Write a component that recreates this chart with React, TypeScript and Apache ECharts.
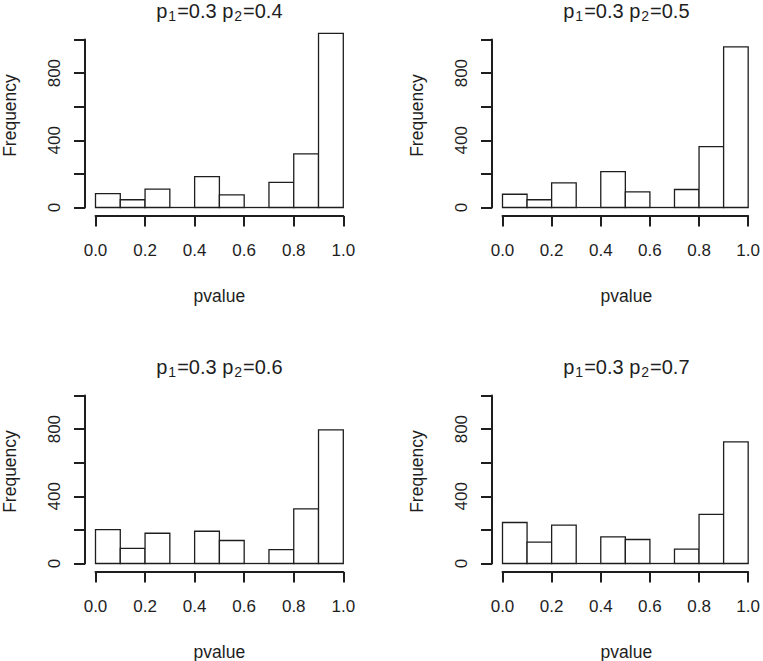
import React, { useEffect, useRef } from "react";
import * as echarts from "echarts";

// Histogram bin edges (pvalue) and counts per panel
const binStarts = [0.0, 0.1, 0.2, 0.3, 0.4, 0.5, 0.6, 0.7, 0.8, 0.9];
const binEnds = [0.1, 0.2, 0.3, 0.4, 0.5, 0.6, 0.7, 0.8, 0.9, 1.0];
const countsP2_04 = [83, 46, 109, 0, 184, 75, 0, 149, 319, 1036];
const countsP2_05 = [79, 46, 147, 0, 214, 93, 0, 107, 362, 956];
const countsP2_06 = [202, 90, 180, 0, 192, 137, 0, 82, 325, 795];
const countsP2_07 = [244, 127, 228, 0, 158, 143, 0, 86, 292, 724];
const p1Value = "0.3";
const p2Values = ["0.4", "0.5", "0.6", "0.7"];
const xTicks = [0.0, 0.2, 0.4, 0.6, 0.8, 1.0];
const yTickLabels = [0, 400, 800];
const xLabel = "pvalue";
const yLabel = "Frequency";

const allCounts = [countsP2_04, countsP2_05, countsP2_06, countsP2_07];

const FONT = "'Liberation Sans', Arial, Helvetica, sans-serif";
const INK = "#1e1e1e";

// layout
const colLeft = [95.5, 502.5];
const rowTop = [39.5, 395.5];
const plotW = 247.8;
const plotH = 168;

export default function App() {
  const ref = useRef<HTMLDivElement>(null);
  useEffect(() => {
    document.body.style.margin = "0";
    const chart = echarts.init(ref.current!, undefined, { renderer: "svg" });
    const grids: any[] = [];
    const xAxes: any[] = [];
    const yAxes: any[] = [];
    const series: any[] = [];
    const graphics: any[] = [];
    allCounts.forEach((counts, i) => {
      const col = i % 2;
      const row = Math.floor(i / 2);
      const left = colLeft[col];
      const top = rowTop[row];
      grids.push({ left, top, width: plotW, height: plotH, containLabel: false });
      xAxes.push({
        type: "value",
        gridIndex: i,
        min: 0,
        max: 1,
        interval: 0.2,
        position: "bottom",
        offset: 8.5,
        axisLine: { show: true, onZero: false, lineStyle: { color: INK, width: 2 } },
        axisTick: { show: true, length: 10.5, lineStyle: { color: INK, width: 2 } },
        axisLabel: {
          show: true,
          margin: 26,
          fontSize: 17,
          fontFamily: FONT,
          color: INK,
          formatter: (v: number) =>
            xTicks.some((t) => Math.abs(t - v) < 1e-9) ? v.toFixed(1) : "",
          showMinLabel: true,
          showMaxLabel: true,
        },
        splitLine: { show: false },
      });
      yAxes.push({
        type: "value",
        gridIndex: i,
        min: 0,
        max: 1000,
        interval: 200,
        position: "left",
        offset: 10.5,
        axisLine: { show: true, onZero: false, lineStyle: { color: INK, width: 2 } },
        axisTick: { show: true, length: 11, lineStyle: { color: INK, width: 2 } },
        axisLabel: {
          show: true,
          rotate: 90,
          margin: 22,
          fontSize: 17,
          fontFamily: FONT,
          color: INK,
          formatter: (v: number) => (yTickLabels.includes(v) ? String(v) : ""),
        },
        splitLine: { show: false },
      });
      series.push({
        type: "custom",
        xAxisIndex: i,
        yAxisIndex: i,
        clip: false,
        silent: true,
        data: counts.map((c, k) => [binStarts[k], binEnds[k], c]),
        encode: { x: [0, 1], y: 2 },
        renderItem: (params: any, api: any) => {
          const x0 = api.value(0);
          const x1 = api.value(1);
          const c = api.value(2);
          const pTop = api.coord([x0, c]);
          const pBot = api.coord([x1, 0]);
          if (c === 0) {
            return {
              type: "line",
              shape: { x1: pTop[0], y1: pBot[1], x2: pBot[0], y2: pBot[1] },
              style: { stroke: INK, lineWidth: 1.3 },
            };
          }
          return {
            type: "rect",
            shape: {
              x: pTop[0],
              y: pTop[1],
              width: pBot[0] - pTop[0],
              height: pBot[1] - pTop[1],
            },
            style: { fill: "#ffffff", stroke: INK, lineWidth: 1.3 },
          };
        },
      });
      const cx = left + plotW / 2;
      graphics.push({
        type: "text",
        x: cx,
        y: top - 29,
        style: {
          text: `{m|p}{s|1}{m|=${p1Value} p}{s|2}{m|=${p2Values[i]}}`,
          align: "center",
          verticalAlign: "middle",
          fill: INK,
          fontFamily: FONT,
          fontSize: 20,
          rich: {
            m: { fontSize: 20, fontFamily: FONT, fill: INK },
            s: { fontSize: 14, fontFamily: FONT, fill: INK, padding: [11, 1, 0, 1] },
          },
        },
      });
      graphics.push({
        type: "text",
        x: cx,
        y: top + 256,
        style: {
          text: xLabel,
          align: "center",
          verticalAlign: "middle",
          fill: INK,
          fontFamily: FONT,
          fontSize: 17.5,
        },
      });
      graphics.push({
        type: "text",
        x: left - 85.8,
        y: top + 76,
        rotation: Math.PI / 2,
        style: {
          text: yLabel,
          align: "center",
          verticalAlign: "middle",
          fill: INK,
          fontFamily: FONT,
          fontSize: 17.5,
        },
      });
    });
    chart.setOption({
      animation: false,
      backgroundColor: "#ffffff",
      grid: grids,
      xAxis: xAxes,
      yAxis: yAxes,
      series,
      graphic: graphics,
    });
    return () => chart.dispose();
  }, []);
  return <div ref={ref} style={{ width: 763, height: 661 }} />;
}
